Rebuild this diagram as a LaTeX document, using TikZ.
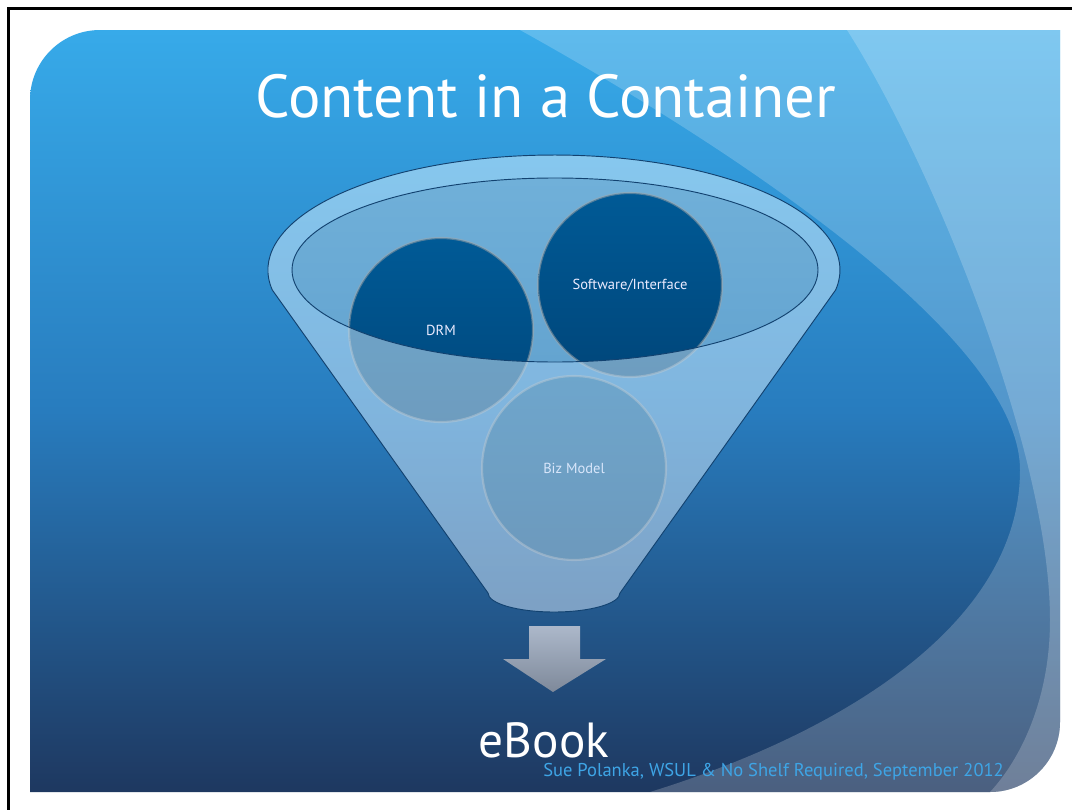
\documentclass[tikz,border=0pt]{standalone}
\usepackage{fontspec}
\setmainfont{PT Sans}
\usepackage{tikz}
\usetikzlibrary{positioning}
\definecolor{slidetop}{RGB}{55,170,233}
\definecolor{slidemid}{RGB}{40,124,190}
\definecolor{slidebot}{RGB}{30,56,96}
\definecolor{rimblue}{RGB}{204,237,255}
\definecolor{conegray}{RGB}{199,221,243}
\definecolor{innertop}{RGB}{112,176,217}
\definecolor{innerbot}{RGB}{100,164,208}
\definecolor{balltop}{RGB}{0,90,150}
\definecolor{ballbot}{RGB}{0,70,122}
\definecolor{edgenavy}{RGB}{18,66,112}
\definecolor{footblue}{RGB}{62,165,230}
\definecolor{arrowtop}{RGB}{172,184,202}
\definecolor{arrowbot}{RGB}{126,137,154}
\tikzset{
    ball/.style={circle, minimum size=138pt, inner sep=0pt,
                 top color=balltop, bottom color=ballbot,
                 draw=gray!70, draw opacity=0.5, line width=1.6pt,
                 text=white!92!blue, font=\fontsize{10.9}{12}\selectfont},
    rimline/.style={draw=edgenavy, line width=0.7pt},
    sheen/.style={white, fill opacity=0.2},
}

\begin{document}
\begin{tikzpicture}[x=0.75pt, y=-0.75pt]
    \useasboundingbox (0,0) rectangle (1072,810);
    \fill[white] (0,0) rectangle (1072,810);
    \draw[line width=2pt] (8.5,810) -- (8.5,8.5) -- (1072,8.5);

    % Slide background
    \def\slidepath{(30,792) -- (30,100) arc[start angle=180, end angle=270, radius=70]
        -- (1060,30) -- (1060,722) arc[start angle=0, end angle=90, radius=70] -- cycle}
    \shade[top color=slidetop, bottom color=slidebot, middle color=slidemid] \slidepath;
    \begin{scope}
        \clip \slidepath;
        \fill[sheen] (520,30) .. controls (700,130) and (1020,330) .. (1020,470)
            .. controls (1020,620) and (850,730) .. (650,792) -- (1060,792) -- (1060,30) -- cycle;
        \fill[sheen] (847,30) .. controls (930,160) and (1050,450) .. (1050,620)
            .. controls (1050,700) and (1020,760) .. (990,792) -- (1060,792) -- (1060,30) -- cycle;
    \end{scope}

    \node[text=white, font=\fontsize{45.5}{50}\selectfont, anchor=base] (title) at (546,117) {Content in a Container};

    % Funnel
    \def\funnelpath{(272.3,290) arc[start angle=170, end angle=370, x radius=286, y radius=115]
        -- (620,593) arc[start angle=0, end angle=180, x radius=66, y radius=19] -- cycle}
    \shade[top color=innertop, bottom color=innerbot] (555,270) ellipse[x radius=263, y radius=92];

    \node[ball] (drm) at (441,330) {DRM};
    \node[ball] (soft) at (630,285) {Software/Interface};
    \node[ball] (biz) at (574,468) {Biz Model};

    \shade[top color=rimblue, bottom color=conegray, fill opacity=0.55, even odd rule]
        \funnelpath (555,270) ellipse[x radius=263, y radius=92];
    \draw[rimline] \funnelpath;
    \draw[rimline] (555,270) ellipse[x radius=263, y radius=92];

    % Arrow down to eBook
    \shade[top color=arrowtop, bottom color=arrowbot]
        (529,626) -- (580,626) -- (580,659) -- (606,659) -- (553,692) -- (503,659) -- (529,659) -- cycle;

    \node[text=white, font=\fontsize{37}{42}\selectfont, anchor=base] (ebook) at (544,757) {eBook};
    \node[text=footblue, font=\fontsize{13.9}{16}\selectfont, anchor=base west, inner sep=0pt] (footer) at (543,776)
        {Sue Polanka, WSUL \& No Shelf Required, September 2012};
\end{tikzpicture}
\end{document}
